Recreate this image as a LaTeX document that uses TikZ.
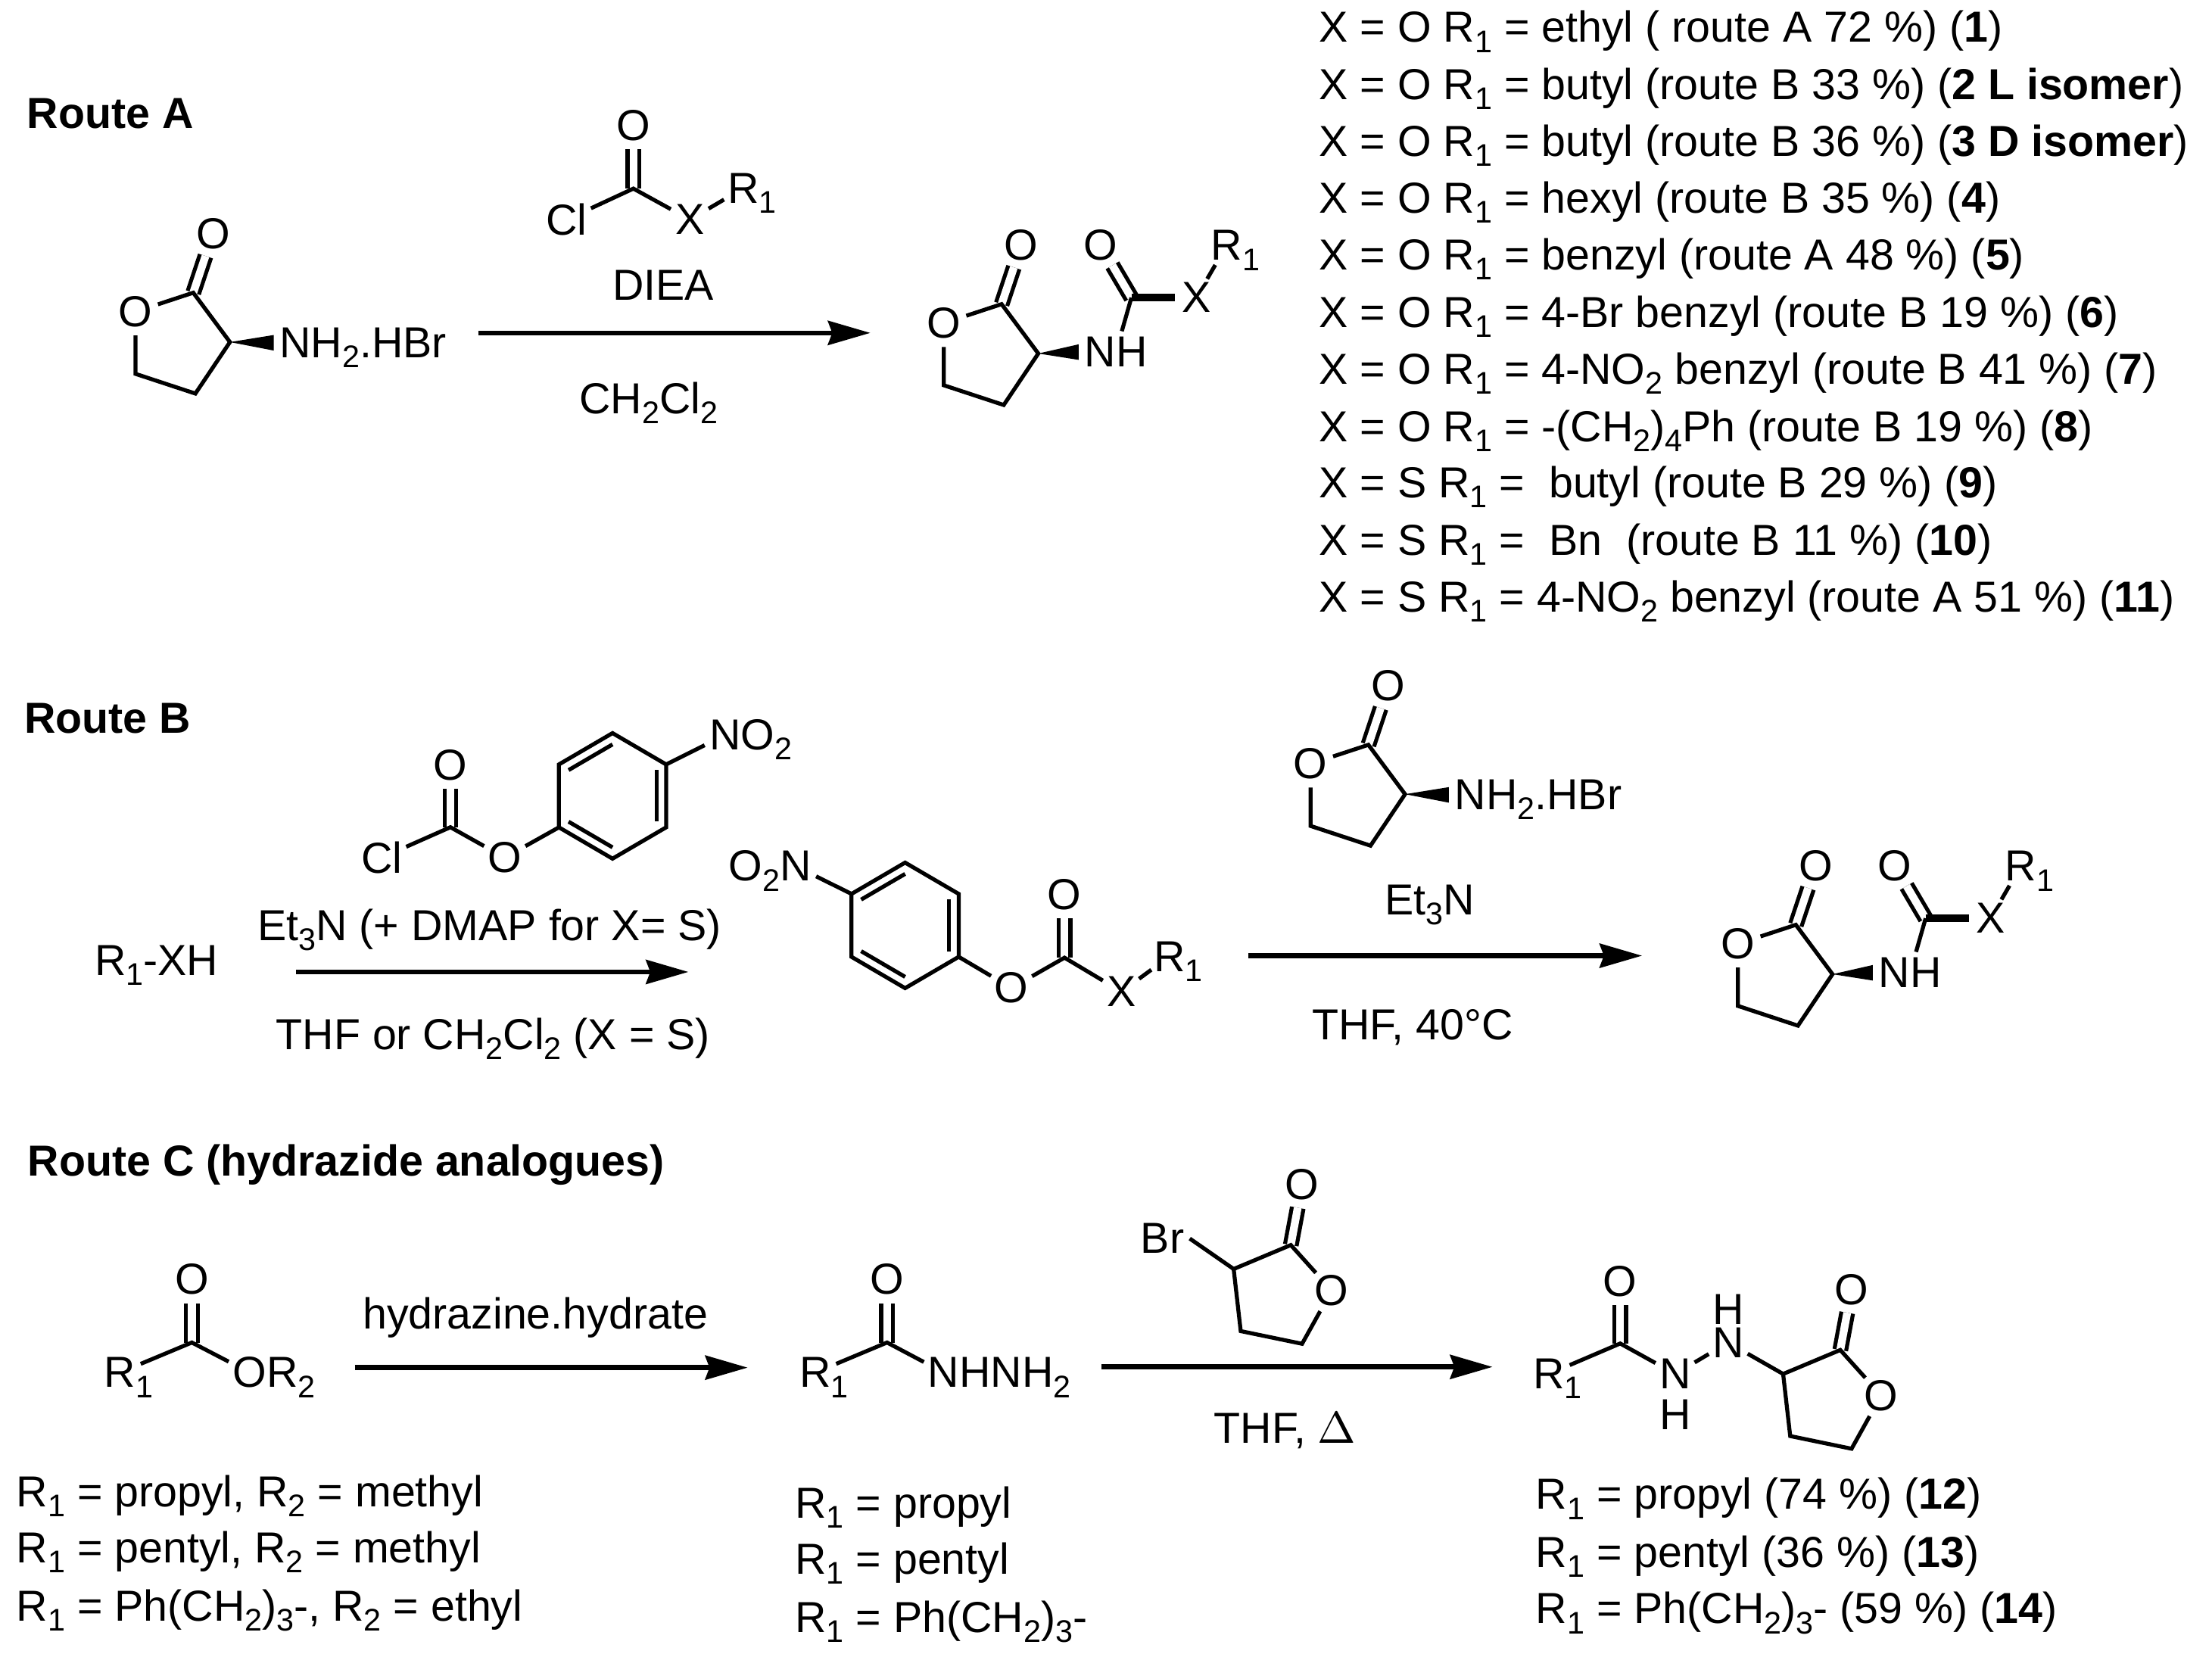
\documentclass[tikz,border=0pt]{standalone}
\usepackage{fontspec}
\setmainfont{Liberation Sans}
\usepackage{tikz}
\usetikzlibrary{arrows.meta}
\usetikzlibrary{calc}

\newcommand{\subs}[1]{\smash{\raisebox{-2pt}{\fontsize{6.3}{7}\selectfont #1}}}
\newcommand{\Rone}{R\rlap{\subs{1}}}
\newcommand{\wedgebond}[2]{\fill (#1) -- ([yshift=0.055cm]#2) -- ([yshift=-0.055cm]#2) -- cycle;}
\newcommand{\innerbond}[3]{\draw[bond] ($(#1)!0.18!(#3)$) -- ($(#2)!0.18!(#3)$);}

\tikzset{
  bond/.style={black, line width=0.8pt},
  dblbond/.style={black, line width=0.8pt, double, double distance=0.055cm},
  boldbond/.style={black, line width=1.5pt},
  rxn/.style={black, line width=1pt, -{Stealth[length=0.3cm,width=0.17cm,inset=0.03cm]}},
  atom/.style={circle, inner sep=0pt, font=\fontsize{8.75}{10}\selectfont},
  group/.style={inner sep=1pt, font=\fontsize{8.75}{10}\selectfont},
  txt/.style={anchor=base west, inner sep=0pt, font=\fontsize{8.75}{10}\selectfont},
  % ring with the carbonyl, origin at the stereo carbon
  lactone/.pic={
    \coordinate (-S) at (0,0);
    \coordinate (-C) at (-26,-35);
    \coordinate (-a) at (-67,22.5);
    \coordinate (-b) at (-24.5,36.5);
    \node[atom] (-Oc) at (-12,-77) {O};
    \node[atom] (-Or) at (-67,-21.5) {O};
    \draw[dblbond] (-C) -- (-Oc);
    \draw[bond] (-Or) -- (-C) -- (-S) -- (-b) -- (-a) -- (-Or);
  },
  % product of routes A and B
  amide/.pic={
    \pic (-lac) at (0,0) {lactone};
    \coordinate (-S) at (0,0);
    \coordinate (-C) at (66,-39.6);
    \node[group] (-NH) at (55,-1) {NH};
    \node[atom] (-O) at (44,-77) {O};
    \node[atom] (-X) at (112,-39.6) {X};
    \node[atom] (-R) at (133.5,-76.6) {\Rone};
    \wedgebond{-S}{-NH.west}
    \draw[dblbond] (-C) -- (-O);
    \draw[bond] (-C) -- (-NH);
    \draw[boldbond] (-C) -- (-X);
    \draw[bond] (-X) -- (-R);
  },
  % ring opening to the right, origin at the carbon bearing the substituent
  brlactone/.pic={
    \coordinate (-S) at (0,0);
    \coordinate (-C) at (40.5,-17);
    \coordinate (-a) at (48.5,53);
    \coordinate (-b) at (5,44);
    \node[atom] (-Oc) at (48.5,-60) {O};
    \node[atom] (-Or) at (69.5,15.2) {O};
    \draw[dblbond] (-C) -- (-Oc);
    \draw[bond] (-S) -- (-C) -- (-Or) -- (-a) -- (-b) -- (-S);
  },
  benzene/.pic={
    \coordinate (-m) at (0,0);
    \coordinate (-a) at (0,-44.5);
    \coordinate (-b) at (38,-22.3);
    \coordinate (-c) at (38,22.3);
    \coordinate (-d) at (0,44.5);
    \coordinate (-e) at (-38,22.3);
    \coordinate (-f) at (-38,-22.3);
    \draw[bond] (-a) -- (-b) -- (-c) -- (-d) -- (-e) -- (-f) -- cycle;
  }
}

\begin{document}
\begin{tikzpicture}[x=0.01cm, y=-0.01cm]
  \useasboundingbox (0,0) rectangle (1568,1172.5);

  % route A
  \node[txt] (titleA) at (18.5,91) {\textbf{Route A}};
  \pic (lacA) at (163,242.5) {lactone};
  \node[group, anchor=west] (amineA) at (194,243) {NH\subs{2}.HBr};
  \wedgebond{lacA-S}{amineA.west}

  \coordinate (cA) at (449,133.7);
  \node[atom] (oA) at (449,89) {O};
  \node[atom] (clA) at (401.6,155.7) {Cl};
  \node[atom] (xA) at (489,155.7) {X};
  \node[atom] (rA) at (527,133.4) {\Rone};
  \draw[dblbond] (cA) -- (oA);
  \draw[bond] (clA) -- (cA) -- (xA);
  \draw[bond] (xA) -- (rA);

  \node[txt] (dieaA) at (433.5,213) {DIEA};
  \node[txt] (solvA) at (410,293) {CH\subs{2}Cl\subs{2}};
  \coordinate (arrA1) at (339,236);
  \coordinate (arrA2) at (617,236);
  \draw[rxn] (arrA1) -- (arrA2);
  \pic (prodA) at (736,250.6) {amide};

  % list of compounds
  \node[txt] (l1) at (934.5,30) {X = O R\subs{1} = ethyl ( route A 72 \%) (\textbf{1})};
  \node[txt] (l2) at (934.5,70.5) {X = O R\subs{1} = butyl (route B 33 \%) (\textbf{2 L isomer})};
  \node[txt] (l3) at (934.5,111) {X = O R\subs{1} = butyl (route B 36 \%) (\textbf{3 D isomer})};
  \node[txt] (l4) at (934.5,151) {X = O R\subs{1} = hexyl (route B 35 \%) (\textbf{4})};
  \node[txt] (l5) at (934.5,191.5) {X = O R\subs{1} = benzyl (route A 48 \%) (\textbf{5})};
  \node[txt] (l6) at (934.5,232) {X = O R\subs{1} = 4-Br benzyl (route B 19 \%) (\textbf{6})};
  \node[txt] (l7) at (934.5,272.5) {X = O R\subs{1} = 4-NO\subs{2} benzyl (route B 41 \%) (\textbf{7})};
  \node[txt] (l8) at (934.5,313) {X = O R\subs{1} = -(CH\subs{2})\subs{4}Ph (route B 19 \%) (\textbf{8})};
  \node[txt] (l9) at (934.5,353) {X = S R\subs{1} = \ butyl (route B 29 \%) (\textbf{9})};
  \node[txt] (l10) at (934.5,393.5) {X = S R\subs{1} = \ Bn \ (route B 11 \%) (\textbf{10})};
  \node[txt] (l11) at (934.5,434) {X = S R\subs{1} = 4-NO\subs{2} benzyl (route A 51 \%) (\textbf{11})};

  % route B
  \node[txt] (titleB) at (16.5,519.5) {\textbf{Route B}};
  \node[txt] (startB) at (66.5,691.5) {R\subs{1}-XH};
  \node[txt] (baseB) at (182,666.5) {Et\subs{3}N (+ DMAP for X= S)};
  \node[txt] (solvB) at (195,744) {THF or CH\subs{2}Cl\subs{2} (X = S)};
  \coordinate (arrB1) at (210,689);
  \coordinate (arrB2) at (488,689);
  \draw[rxn] (arrB1) -- (arrB2);

  \pic (ringB) at (434.2,564.2) {benzene};
  \innerbond{ringB-f}{ringB-a}{ringB-m}
  \innerbond{ringB-b}{ringB-c}{ringB-m}
  \innerbond{ringB-d}{ringB-e}{ringB-m}
  \coordinate (cB) at (319.3,586.4);
  \node[atom] (oB) at (319.3,542.4) {O};
  \node[atom] (clB) at (270.5,608) {Cl};
  \node[atom] (esterB) at (357.8,608) {O};
  \node[atom] (nitroB) at (514,521) {N\rlap{O\subs{2}}};
  \draw[dblbond] (cB) -- (oB);
  \draw[bond] (clB) -- (cB) -- (esterB) -- (ringB-e);
  \draw[bond] (ringB-b) -- (nitroB);

  \pic (ringI) at (641.6,656) {benzene};
  \innerbond{ringI-a}{ringI-f}{ringI-m}
  \innerbond{ringI-b}{ringI-c}{ringI-m}
  \innerbond{ringI-d}{ringI-e}{ringI-m}
  \coordinate (cI) at (754.6,678.9);
  \node[atom] (oI) at (754.6,634) {O};
  \node[atom] (esterI) at (717,700.4) {O};
  \node[atom] (xI) at (795,703) {X};
  \node[atom] (rI) at (829,678) {\Rone};
  \node[atom] (nitroI) at (564,614) {\llap{O\subs{2}}N};
  \draw[dblbond] (cI) -- (oI);
  \draw[bond] (ringI-c) -- (esterI) -- (cI) -- (xI);
  \draw[bond] (xI) -- (rI);
  \draw[bond] (ringI-f) -- (nitroI);

  \pic (lacB) at (996,563) {lactone};
  \node[group, anchor=west] (amineB) at (1027,563.5) {NH\subs{2}.HBr};
  \wedgebond{lacB-S}{amineB.west}
  \node[txt] (baseB2) at (981,648.5) {Et\subs{3}N};
  \node[txt] (solvB2) at (929.5,737) {THF, 40°C};
  \coordinate (arrB3) at (885,677.5);
  \coordinate (arrB4) at (1164,677.5);
  \draw[rxn] (arrB3) -- (arrB4);
  \pic (prodB) at (1299,690.6) {amide};

  % route C
  \node[txt] (titleC) at (19,833.5) {\textbf{Route C (hydrazide analogues)}};

  \coordinate (cC) at (136,951.7);
  \node[atom] (oC) at (136,907) {O};
  \node[atom] (rC) at (85,973) {\Rone};
  \node[atom] (orC) at (177,973) {O\rlap{R\subs{2}}};
  \draw[dblbond] (cC) -- (oC);
  \draw[bond] (rC) -- (cC) -- (orC);
  \node[txt] (hydC) at (256.5,942) {hydrazine.hydrate};
  \coordinate (arrC1) at (251.5,969.5);
  \coordinate (arrC2) at (530,969.5);
  \draw[rxn] (arrC1) -- (arrC2);

  \coordinate (cH) at (628.8,951.7);
  \node[atom] (oH) at (628.8,907) {O};
  \node[atom] (rH) at (578,973) {\Rone};
  \node[atom] (nH) at (669,973) {N\rlap{HNH\subs{2}}};
  \draw[dblbond] (cH) -- (oH);
  \draw[bond] (rH) -- (cH) -- (nH);

  \pic (lacBr) at (874.5,899.6) {brlactone};
  \node[atom] (br) at (824,878) {Br};
  \draw[bond] (br.east) -- (lacBr-S);
  \coordinate (arrC3) at (781,969);
  \coordinate (arrC4) at (1058,969);
  \draw[rxn] (arrC3) -- (arrC4);
  \node[txt] (solvC) at (860,1023) {THF, $\Delta$};

  \coordinate (cP) at (1148.5,952.4);
  \node[atom] (oP) at (1148.5,908.3) {O};
  \node[atom] (rP) at (1098,974) {\Rone};
  \node[atom] (n1P) at (1187.5,974) {N};
  \node[group, inner sep=0pt] (h1P) at (1187.5,1003) {H};
  \node[atom] (n2P) at (1225,951.7) {N};
  \node[group, inner sep=0pt] (h2P) at (1225,928) {H};
  \pic (lacP) at (1264,974) {brlactone};
  \draw[dblbond] (cP) -- (oP);
  \draw[bond] (rP) -- (cP) -- (n1P);
  \draw[bond] (n1P) -- (n2P);
  \draw[bond] (n2P) -- (lacP-S);

  % substituents
  \node[txt] (e1) at (11,1068) {R\subs{1} = propyl, R\subs{2} = methyl};
  \node[txt] (e2) at (11,1108) {R\subs{1} = pentyl, R\subs{2} = methyl};
  \node[txt] (e3) at (11,1149) {R\subs{1} = Ph(CH\subs{2})\subs{3}-, R\subs{2} = ethyl};
  \node[txt] (h1) at (563,1076) {R\subs{1} = propyl};
  \node[txt] (h2) at (563,1116) {R\subs{1} = pentyl};
  \node[txt] (h3) at (563,1157) {R\subs{1} = Ph(CH\subs{2})\subs{3}-};
  \node[txt] (p1) at (1088,1070) {R\subs{1} = propyl (74 \%) (\textbf{12})};
  \node[txt] (p2) at (1088,1111) {R\subs{1} = pentyl (36 \%) (\textbf{13})};
  \node[txt] (p3) at (1088,1151) {R\subs{1} = Ph(CH\subs{2})\subs{3}- (59 \%) (\textbf{14})};
\end{tikzpicture}
\end{document}
